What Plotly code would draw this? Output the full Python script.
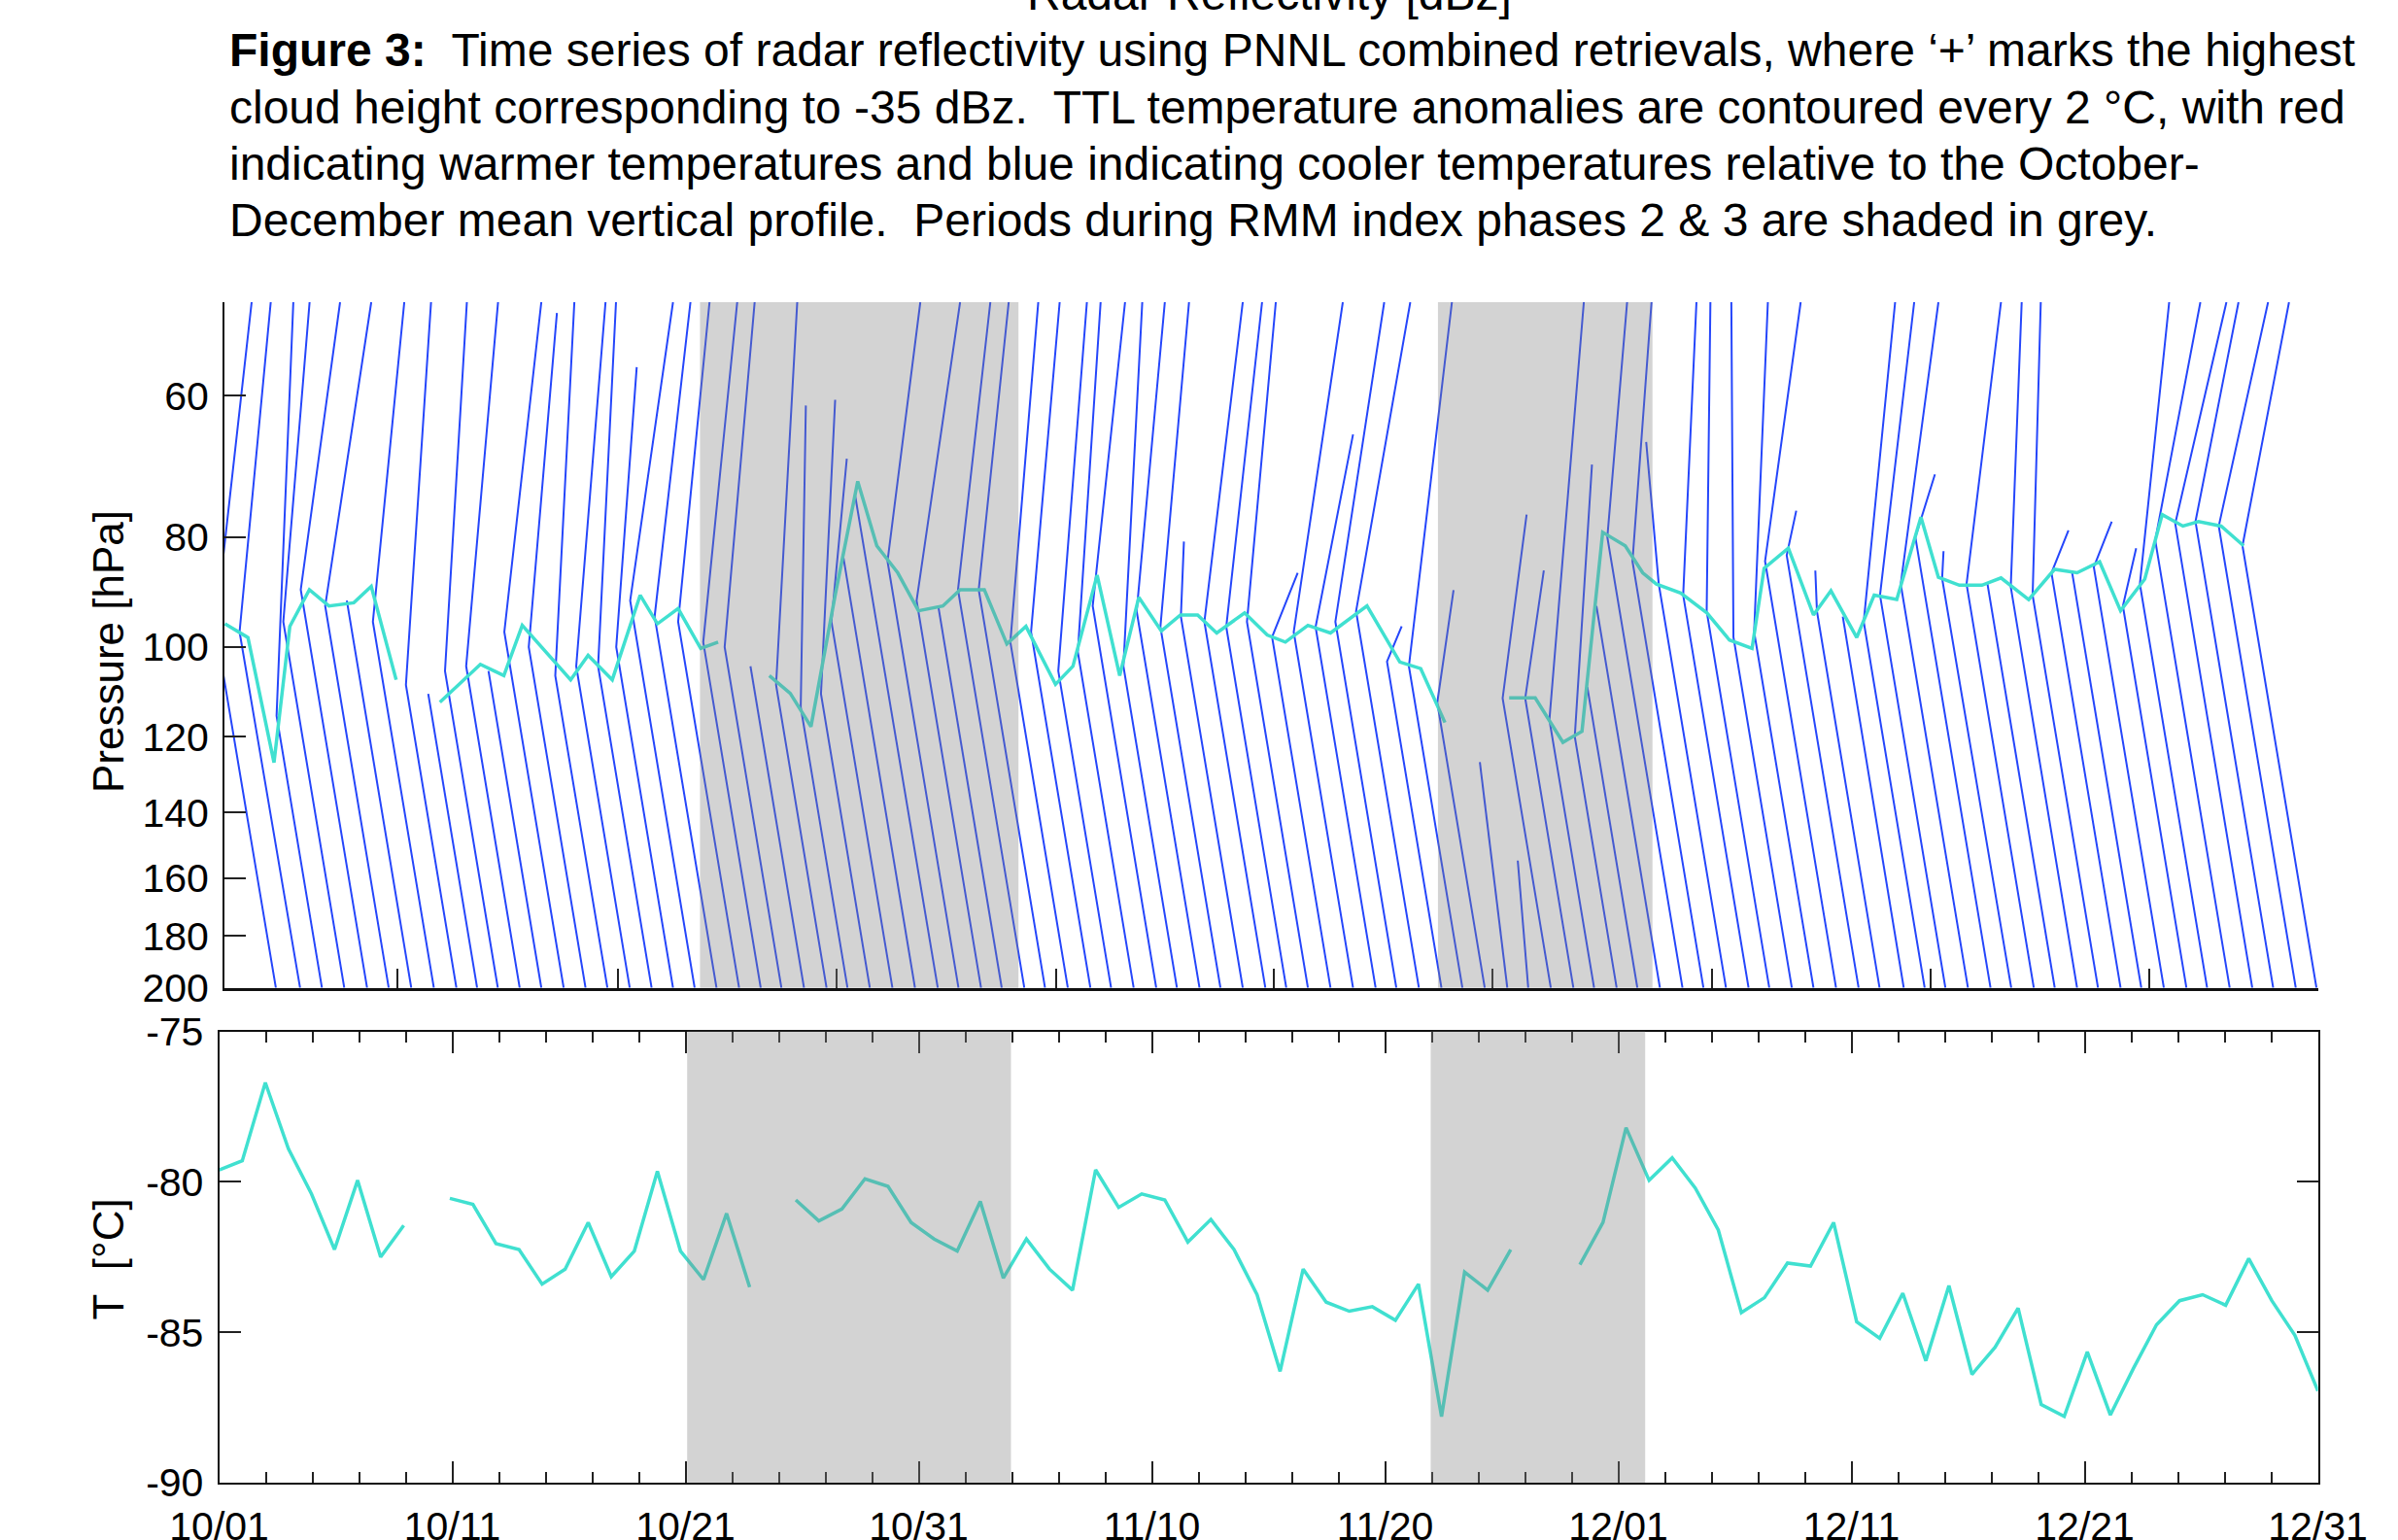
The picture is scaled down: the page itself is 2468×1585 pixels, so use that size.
import numpy as np
import plotly.graph_objects as go

W, H = 2468, 1585
FONT = "Liberation Sans, Arial, Helvetica, sans-serif"

# ---------------- data ----------------
# bottom panel: TTL temperature, one value per day since 10/01 (None = missing)
T_DAYS = list(range(92))
T_VALUES = [-79.6, -79.3, -76.7, -78.9, -80.4, -82.25, -79.95, -82.5, -81.45, None,
            -80.55, -80.75, -82.05, -82.25, -83.4, -82.9, -81.35, -83.15, -82.3, -79.65,
            -82.3, -83.25, -81.05, -83.5, None, -80.6, -81.3, -80.9, -79.9, -80.15,
            -81.35, -81.9, -82.3, -80.65, -83.2, -81.9, -82.9, -83.6, -79.6, -80.85,
            -80.4, -80.6, -82.0, -81.25, -82.25, -83.75, -86.3, -82.9, -84.0, -84.3,
            -84.15, -84.6, -83.4, -87.8, -83.0, -83.6, -82.25, None, None, -82.75,
            -81.35, -78.2, -79.95, -79.2, -80.2, -81.6, -84.35, -83.85, -82.7, -82.8,
            -81.35, -84.65, -85.2, -83.7, -85.95, -83.45, -86.4, -85.5, -84.2, -87.4,
            -87.8, -85.65, -87.75, -86.2, -84.75, -83.95, -83.75, -84.1, -82.55, -83.95,
            -85.1, -86.95]

# top panel: highest cloud height (-35 dBz) in pressure
CYAN_TOP_X = [0.02, 1.01, 2.13, 2.81, 3.65, 4.49, 5.56, 6.31, 7.38, None,
              9.26, 11.0, 12.01, 12.80, 14.88, 15.63, 16.67, 17.87, 18.61, 19.50, 20.47, 21.22, None,
              23.42, 24.32, 25.21, 26.25, 27.22, 28.04, 28.94, 29.83, 30.88, 31.62, 32.66, 33.63,
              34.45, 35.72, 36.47, 37.51, 38.48, 39.30, 40.27, 41.09, 41.83, 42.65, 43.85, 44.82,
              45.60, 46.57, 47.54, 49.11, 50.52, 51.42, 52.46, None,
              55.22, 56.34, 57.53, 58.35, 59.24, 60.21, 60.96, 61.55, 62.59, 63.72, 64.69, 65.66,
              66.18, 67.22, 68.30, 69.05, 70.16, 70.91, 71.88, 72.92, 73.67, 74.57, 75.54, 76.36,
              77.55, 78.66, 79.63, 80.60, 81.50, 82.54, 83.29, 84.18, 84.85, 85.82, 86.79]
CYAN_TOP_P = [95.4, 98.1, 126.5, 95.9, 89.0, 92.0, 91.4, 88.4, 106.9, None,
              111.9, 103.6, 106.0, 95.7, 106.9, 101.7, 106.9, 90.0, 95.4, 92.5, 100.3, 99.0, None,
              106.0, 109.9, 117.6, 90.0, 71.4, 81.4, 86.0, 92.9, 92.0, 89.0, 89.0, 99.4,
              95.9, 107.9, 104.0, 86.4, 106.0, 90.4, 96.8, 93.7, 93.7, 97.2, 93.3, 97.6,
              99.0, 95.7, 97.2, 92.0, 103.1, 104.5, 116.6, None,
              110.9, 110.9, 121.4, 118.7, 79.2, 81.4, 86.0, 88.0, 89.6, 93.3, 98.6, 100.3,
              85.2, 81.8, 93.7, 89.2, 98.1, 90.0, 90.8, 76.8, 86.8, 88.2, 88.2, 86.9,
              90.8, 85.4, 86.0, 84.1, 92.9, 87.1, 76.4, 78.2, 77.5, 78.2, 81.4]

# blue profile lines: x at 200 hPa, kink point (x, p), upper end (x, p) or None
LINE_BOTTOM_X = [2.21, 3.25, 4.19, 5.15, 6.13, 7.06, 8.03, 9.00, 9.97, 10.86,
                 11.75, 12.69, 13.62, 14.58, 15.52, 16.46, 17.42, 18.36, 19.28, 20.21,
                 21.15, 22.12, 23.05, 23.94, 24.91, 25.88, 26.78, 27.74, 28.71, 29.68,
                 30.66, 31.55, 32.52, 33.41, 34.38, 35.27, 36.25, 37.22, 38.11, 39.08,
                 40.05, 40.94, 41.91, 42.81, 43.77, 44.74, 45.64, 46.57, 47.54, 48.51,
                 49.48, 50.37, 51.34, 52.31, 53.21, 54.17, 55.14, 56.04, 57.01, 57.98,
                 58.87, 59.84, 60.73, 61.70, 62.67, 63.57, 64.54, 65.51, 66.40, 67.37,
                 68.30, 69.27, 70.24, 71.14, 72.18, 73.08, 73.97, 74.94, 75.91, 76.80,
                 77.77, 78.67, 79.63, 80.53, 81.50, 82.39, 83.36, 84.33, 85.22, 86.19,
                 87.16, 88.06, 89.03, 89.92]
LINE_KINK_X = [-0.39, 0.65, 2.24, 2.53, 3.28, 4.33, 5.26, 6.38, 7.80, 8.76,
               9.48, 10.39, 11.35, 12.03, 13.08, 14.22, 15.12, 16.06, 16.84, 17.44,
               18.49, 19.50, 20.58, 21.50, 22.61, 23.71, 24.77, 25.64, 26.09, 26.59,
               27.11, 28.50, 29.75, 30.68, 31.53, 32.42, 33.78, 34.67, 35.84, 36.68,
               37.32, 38.64, 39.21, 40.23, 41.11, 42.12, 43.06, 43.95, 45.03, 45.96,
               46.90, 47.75, 48.64, 49.97, 50.91, 52.13, 53.96, 55.59, 54.94, 55.91,
               56.95, 58.04, 58.58, 58.97, 59.44, 60.52, 61.65, 62.70, 63.71, 64.86,
               65.75, 66.22, 67.15, 68.45, 69.56, 70.46, 71.16, 72.05, 72.68, 73.83,
               74.88, 75.78, 76.78, 77.72, 78.53, 79.42, 80.35, 81.60, 82.33, 82.99,
               83.85, 84.72, 85.72, 86.74]
LINE_KINK_P = [96, 97, 115, 95, 89, 92, 91, 95, 108, 110,
               105, 104, 105, 97, 100, 106, 104, 104, 100, 91,
               94, 95, 99, 100, 104, 108, 113, 110, 95, 83,
               73.5, 84, 91, 92, 89, 89, 99, 97, 105, 101,
               92, 104, 93, 96, 94, 95, 96, 95, 98, 97,
               96, 95, 93, 103, 104, 112, 126.4, 154.4, 111, 111,
               116, 120, 108.5, 92, 80, 84, 88, 90, 93, 98,
               97, 84, 83, 93, 94, 95, 90, 88, 80, 87,
               88, 88, 88.5, 90, 86, 86, 85, 92, 88, 80.5,
               77.8, 77.5, 78.2, 81.4]
LINE_TIP_X = [1.17, 1.99, 2.96, 3.66, 4.97, 6.31, None, 7.73, 8.88, None,
              10.42, 11.76, None, 13.62, 14.29, 15.04, 16.38, 16.83, 17.72, 19.28,
              20.03, 20.85, 22.04, 22.79, None, 24.62, 24.99, 26.25, 26.75, None,
              None, 29.91, 31.62, None, 32.92, 33.71, 34.98, 35.90, 37.07, 37.66,
              38.71, 39.45, 40.42, 41.46, 41.24, 43.77, 44.60, 45.19, 46.13, 48.07,
              48.51, 49.85, 50.97, 50.60, 52.76, 52.83, None, None, 55.97, 56.71,
              58.43, 58.78, None, None, 60.29, 61.34, 61.11, 63.27, 63.87, 64.77,
              66.34, 67.75, 67.56, 68.38, None, 71.81, 72.63, 73.67, 73.52, 73.89,
              76.36, None, 77.25, 78.07, 79.26, None, 81.12, 82.17, 83.59, 84.93,
              86.05, 86.57, 87.84, 88.74]
LINE_TIP_P = [49.6, 49.6, 49.6, 49.6, 49.6, 49.6, None, 49.6, 49.6, None,
              49.6, 49.6, None, 49.6, 50.7, 49.6, 49.6, 49.6, 56.6, 49.6,
              49.6, 49.6, 49.6, 49.6, None, 49.6, 61.2, 60.5, 68.2, None,
              None, 49.6, 49.6, None, 49.6, 49.6, 49.6, 49.6, 49.6, 49.6,
              49.6, 49.6, 49.6, 49.6, 80.7, 49.6, 49.6, 49.6, 86.0, 49.6,
              64.9, 49.6, 49.6, 95.9, 49.6, 89.1, None, None, 76.4, 85.6,
              49.6, 69.0, None, None, 49.6, 49.6, 65.9, 49.6, 49.6, 49.6,
              49.6, 49.6, 75.8, 85.6, None, 49.6, 49.6, 49.6, 70.4, 82.3,
              49.6, None, 49.6, 49.6, 78.9, None, 77.5, 81.8, 49.6, 49.6,
              49.6, 49.6, 49.6, 49.6]

SHADE_TOP = [[20.44, 34.13], [52.16, 61.38]]
SHADE_BOT = [[20.29, 34.33], [52.53, 61.83]]
TOP_XTICKS = [7.43, 16.90, 26.33, 35.73, 45.12, 54.52, 63.92, 73.34, 82.74]
P_TICKS = [60, 80, 100, 120, 140, 160, 180, 200]
DATE_LABELS = ['10/01', '10/11', '10/21', '10/31', '11/10', '11/20', '12/01', '12/11', '12/21', '12/31']
T_TICKS = [-90, -85, -80, -75]
P_BOTTOM, P_TOP = 200, 49.6
N_DAYS = 91

CAPTION = [
    "<b>Figure 3:</b>\u00a0 Time series of radar reflectivity using PNNL combined retrievals, where \u2018+\u2019 marks the highest",
    "cloud height corresponding to -35 dBz.\u00a0 TTL temperature anomalies are contoured every 2 \u00b0C, with red",
    "indicating warmer temperatures and blue indicating cooler temperatures relative to the October-",
    "December mean vertical profile.\u00a0 Periods during RMM index phases 2 &amp; 3 are shaded in grey.",
]

# ---------------- build ----------------
lx, lp = [], []
for b, kx, kp, tx, tp in zip(LINE_BOTTOM_X, LINE_KINK_X, LINE_KINK_P, LINE_TIP_X, LINE_TIP_P):
    lx += [b, kx]
    lp += [P_BOTTOM, kp]
    if tx is not None:
        lx.append(tx)
        lp.append(tp)
    lx.append(None)
    lp.append(None)

fig = go.Figure()
fig.add_trace(go.Scatter(x=lx, y=lp, mode="lines", xaxis="x", yaxis="y",
                         line=dict(color="#2546fb", width=2.0), hoverinfo="skip",
                         showlegend=False))
fig.add_trace(go.Scatter(x=CYAN_TOP_X, y=CYAN_TOP_P, mode="lines", xaxis="x", yaxis="y",
                         line=dict(color="#40e0d0", width=3.5), connectgaps=False,
                         showlegend=False))
fig.add_trace(go.Scatter(x=T_DAYS, y=T_VALUES, mode="lines", xaxis="x2", yaxis="y2",
                         line=dict(color="#40e0d0", width=3.5), connectgaps=False,
                         showlegend=False))

shapes = []
for a, b in SHADE_TOP:
    shapes.append(dict(type="rect", xref="x", yref="y domain", x0=a, x1=b, y0=0, y1=1,
                       fillcolor="rgba(128,128,128,0.35)", line=dict(width=0), layer="above"))
for a, b in SHADE_BOT:
    shapes.append(dict(type="rect", xref="x2", yref="y2 domain", x0=a, x1=b, y0=0, y1=1,
                       fillcolor="rgba(128,128,128,0.35)", line=dict(width=0), layer="above"))

def px_x(v):
    return v / W

def px_y(v):
    return 1 - v / H

tick_font = dict(family=FONT, size=41, color="black")
major_bot = list(np.linspace(0, N_DAYS, len(DATE_LABELS)))
minor_bot = list(np.linspace(0, N_DAYS, 46))

fig.update_layout(
    width=W, height=H, margin=dict(l=0, r=0, t=0, b=0),
    paper_bgcolor="white", plot_bgcolor="white", showlegend=False,
    font=dict(family=FONT, color="black"),
    shapes=shapes,
    xaxis=dict(domain=[px_x(231), px_x(2386)], range=[0, 90], anchor="y",
               showline=True, linecolor="#111", linewidth=2.5, ticks="inside", ticklen=20,
               tickwidth=2, tickcolor="#222", tickvals=TOP_XTICKS, showticklabels=False,
               showgrid=False, zeroline=False, fixedrange=True),
    yaxis=dict(domain=[px_y(1016.7), px_y(311)], type="log",
               range=[np.log10(P_BOTTOM), np.log10(P_TOP)], anchor="x",
               showline=True, linecolor="#111", linewidth=2, ticks="inside", ticklen=22,
               tickwidth=2, tickcolor="#222", tickvals=P_TICKS, ticktext=[str(v) for v in P_TICKS],
               tickfont=tick_font, ticklabelstandoff=6, showgrid=False, zeroline=False,
               fixedrange=True, automargin=False),
    xaxis2=dict(domain=[px_x(225.6), px_x(2385.6)], range=[0, N_DAYS], anchor="y2",
                showline=True, mirror="ticks", linecolor="#111", linewidth=2, ticks="inside",
                ticklen=22, tickwidth=2, tickcolor="#222", tickvals=major_bot, ticktext=DATE_LABELS,
                tickfont=tick_font, ticklabelstandoff=8, showgrid=False, zeroline=False,
                fixedrange=True, automargin=False,
                minor=dict(tickvals=minor_bot, ticks="inside", ticklen=11, tickwidth=2,
                           tickcolor="#222", showgrid=False)),
    yaxis2=dict(domain=[px_y(1526), px_y(1061.6)], range=[-90, -75], anchor="x2",
                showline=True, mirror="ticks", linecolor="#111", linewidth=2, ticks="inside",
                ticklen=22, tickwidth=2, tickcolor="#222", tickvals=T_TICKS,
                ticktext=[str(v) for v in T_TICKS], tickfont=tick_font, ticklabelstandoff=6,
                showgrid=False, zeroline=False, fixedrange=True, automargin=False),
)

ann = []
for i, line in enumerate(CAPTION):
    ann.append(dict(text=line, xref="paper", yref="paper", x=px_x(234), y=px_y(51.7 + 58.4 * i),
                    xanchor="left", yanchor="middle", showarrow=False,
                    font=dict(family=FONT, size=48, color="black")))
ann.append(dict(text="Radar Reflectivity [dBz]", xref="paper", yref="paper", x=px_x(1306),
                y=px_y(-6), xanchor="center", yanchor="middle", showarrow=False,
                font=dict(family=FONT, size=48, color="black")))
ann.append(dict(text="Pressure [hPa]", xref="paper", yref="paper", x=px_x(111), y=px_y(671),
                xanchor="center", yanchor="middle", textangle=-90, showarrow=False,
                font=dict(family=FONT, size=44, color="black")))
ann.append(dict(text="T\u00a0 [\u00b0C]", xref="paper", yref="paper", x=px_x(111), y=px_y(1296.5),
                xanchor="center", yanchor="middle", textangle=-90, showarrow=False,
                font=dict(family=FONT, size=44, color="black")))
fig.update_layout(annotations=ann)

fig.write_html("out.html")
